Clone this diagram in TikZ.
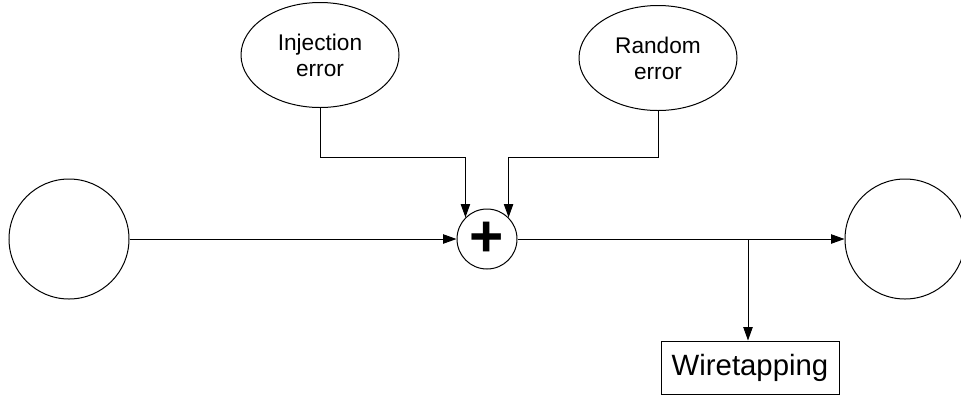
\documentclass[tikz,border=0pt]{standalone}
\usepackage{fontspec}
\setmainfont{Liberation Sans}
\usetikzlibrary{shapes.geometric,arrows.meta}

\tikzset{every picture/.style={line width=0.75pt}}
\tikzset{
    arr/.style={-{Triangle[length=10pt,width=7pt]}},
    errnode/.style={draw,ellipse,inner sep=0pt,minimum width=118.5pt,minimum height=78.75pt,align=center,font=\fontsize{17}{19.5}\selectfont},
    endnode/.style={draw,circle,inner sep=0pt,minimum size=90pt},
    sumnode/.style={draw,circle,inner sep=0pt,minimum size=45pt,font=\fontsize{44}{44}\selectfont\bfseries},
    tapbox/.style={draw,rectangle,inner sep=0pt,minimum width=133.5pt,minimum height=39.75pt,font=\fontsize{22}{26}\selectfont}
}

\begin{document}
\begin{tikzpicture}[x=0.75pt,y=0.75pt,yscale=-1]
        \useasboundingbox (0,0) rectangle (961,401);
        \node [endnode] (src) at (69,239) {};
        \node [endnode] (dst) at (905,239) {};
        \node [sumnode] (sum) at (487,239) {+};
        \node [errnode] (inj) at (320,55) {Injection\\error};
        \node [errnode] (rnd) at (658,58) {Random\\error};
        \node [tapbox] (tap) at (750,367.5) {Wiretapping};
        \coordinate (jn) at (0,157);
        \coordinate (tapj) at (748,239);
        \draw [arr] (src) -- (sum);
        \draw [arr] (inj.south) |- (sum.135 |- jn) -- (sum.135);
        \draw [arr] (rnd.south) |- (sum.45 |- jn) -- (sum.45);
        \draw [arr] (sum) -- (dst);
        \draw [arr] (tapj) -- (tapj |- tap.north);
\end{tikzpicture}
\end{document}
